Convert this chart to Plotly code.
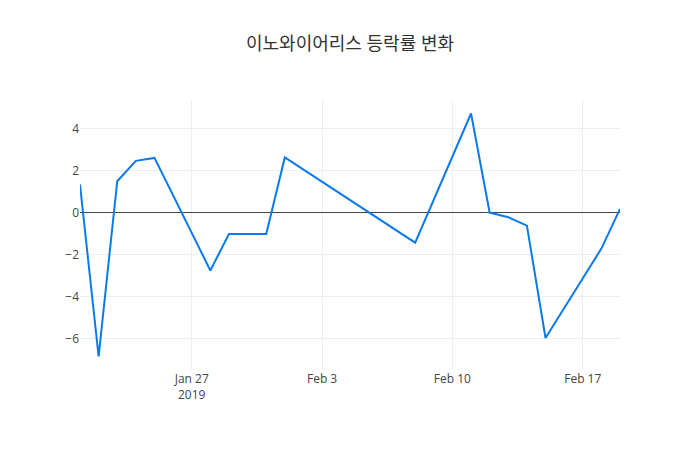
import plotly.graph_objects as go

dates = [
    "2019-01-21", "2019-01-22", "2019-01-23", "2019-01-24", "2019-01-25",
    "2019-01-28", "2019-01-29", "2019-01-30", "2019-01-31", "2019-02-01",
    "2019-02-08", "2019-02-11", "2019-02-12", "2019-02-13", "2019-02-14",
    "2019-02-15", "2019-02-18", "2019-02-19",
]
change_pct = [
    1.33, -6.84, 1.49, 2.46, 2.60,
    -2.75, -1.02, -1.02, -1.02, 2.62,
    -1.43, 4.71, 0.0, -0.22, -0.62,
    -5.96, -1.71, 0.17,
]
title_text = "이노와이어리스 등락률 변화"

fig = go.Figure(
    go.Scatter(
        x=dates,
        y=change_pct,
        mode="lines",
        line=dict(color="rgb(12,122,232)", width=2),
    )
)
fig.update_layout(
    template="none",
    width=700,
    height=450,
    title=dict(text=title_text, x=0.5, xanchor="center",
               font=dict(size=18, color="#333")),
    font=dict(family="Open Sans, Noto Sans CJK KR, sans-serif", color="#444"),
    margin=dict(l=80, r=80, t=100, b=80),
    paper_bgcolor="white",
    plot_bgcolor="white",
    showlegend=False,
)
fig.update_xaxes(showgrid=True, gridcolor="#eee", zeroline=False)
fig.update_yaxes(showgrid=True, gridcolor="#eee", zeroline=True, zerolinecolor="#444", zerolinewidth=1)
fig.write_html("out.html", config={"displayModeBar": False},
               post_script="document.body.style.margin='0';")
